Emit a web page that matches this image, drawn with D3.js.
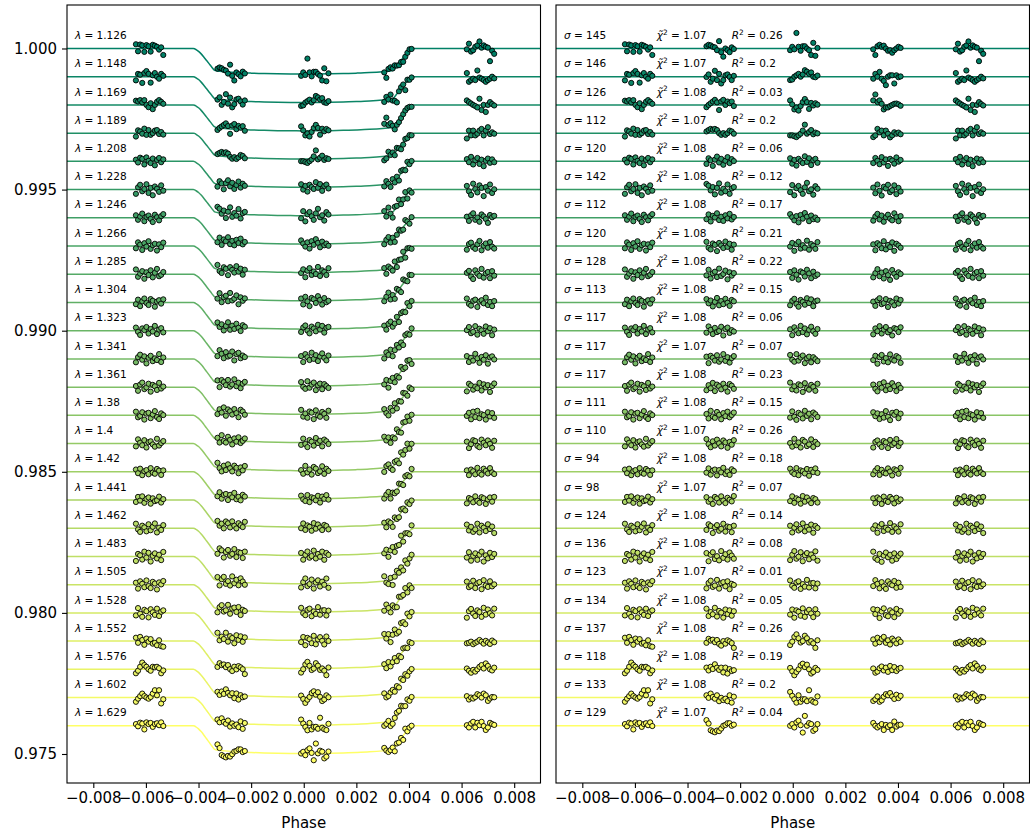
<!DOCTYPE html>
<html><head><meta charset="utf-8">
<script src="https://cdn.jsdelivr.net/npm/d3@7"></script>
<style>body{margin:0;background:#fff}svg{display:block}text{font-family:"DejaVu Sans",sans-serif;fill:#000}</style>
</head><body><svg id="chart" width="1030" height="832"></svg>
<script>
const wavelengths=[1.126,1.148,1.169,1.189,1.208,1.228,1.246,1.266,1.285,1.304,1.323,1.341,1.361,1.38,1.4,1.42,1.441,1.462,1.483,1.505,1.528,1.552,1.576,1.602,1.629];
const sigmas=[145,146,126,112,120,142,112,120,128,113,117,117,117,111,110,94,98,124,136,123,134,137,118,133,129];
const chi2=[1.07,1.07,1.08,1.07,1.08,1.08,1.08,1.08,1.08,1.08,1.08,1.07,1.08,1.08,1.07,1.08,1.07,1.08,1.08,1.07,1.08,1.08,1.08,1.08,1.07];
const rsq=[0.26,0.2,0.03,0.2,0.06,0.12,0.17,0.21,0.22,0.15,0.06,0.07,0.23,0.15,0.26,0.18,0.07,0.14,0.08,0.01,0.05,0.26,0.19,0.2,0.04];
// transit depth per channel (ppm)
const depths=[908,915,920,915,920,925,930,935,940,945,950,960,965,965,960,955,960,965,970,970,975,975,980,980,983];
// orbital phase of each exposure (5 HST orbits)
const phases=[-0.00638,-0.00630,-0.00622,-0.00614,-0.00606,-0.00598,-0.00590,-0.00582,-0.00574,-0.00566,-0.00558,-0.00550,-0.00542,-0.00534,
-0.00328,-0.00320,-0.00312,-0.00304,-0.00296,-0.00288,-0.00280,-0.00272,-0.00264,-0.00256,-0.00248,-0.00240,-0.00232,-0.00224,
-0.00010,-0.00002,0.00006,0.00014,0.00022,0.00030,0.00038,0.00046,0.00054,0.00062,0.00070,0.00078,0.00086,0.00094,
0.00306,0.00314,0.00322,0.00330,0.00338,0.00346,0.00354,0.00362,0.00370,0.00378,0.00386,0.00394,0.00402,0.00410,
0.00620,0.00628,0.00636,0.00644,0.00652,0.00660,0.00668,0.00676,0.00684,0.00692,0.00700,0.00708,0.00716,0.00724];
// normalised transit model at each exposure (fraction of depth)
const modelAtPhase=[0,0,0,0,0,0,0,0,0,0,0,0,0,0,
0.876,0.884,0.893,0.900,0.906,0.912,0.918,0.924,0.930,0.935,0.940,0.944,0.948,0.952,
1,1,1,1,0.999,0.999,0.998,0.997,0.996,0.995,0.994,0.993,0.992,0.990,
0.900,0.892,0.884,0.877,0.847,0.768,0.668,0.564,0.460,0.356,0.258,0.170,0.096,0.040,
0,0,0,0,0,0,0,0,0,0,0,0,0,0];
// normalised transit model curve
const modelPhase=[-0.009,-0.0042,-0.00415,-0.0041,-0.0040,-0.0039,-0.0038,-0.0037,-0.0036,-0.0035,-0.0034,-0.0033,-0.0030,-0.0025,-0.0020,-0.0015,-0.0010,-0.0005,0,0.0005,0.0010,0.0015,0.0020,0.0025,0.0030,0.0033,0.0034,0.0035,0.0036,0.0037,0.0038,0.0039,0.0040,0.0041,0.00415,0.0042,0.009];
const modelShape=[0,0,0.01,0.04,0.11,0.21,0.33,0.46,0.59,0.72,0.84,0.875,0.905,0.940,0.962,0.978,0.990,0.997,1,0.997,0.990,0.978,0.962,0.940,0.905,0.875,0.84,0.72,0.59,0.46,0.33,0.21,0.11,0.04,0.01,0,0];
// residuals per channel (ppm), 14 exposures per orbit
const res01=[150,-100,140,110,-120,120,80,-110,130,100,60,-40,40,-230, 80,130,110,60,40,-60,260,-130,-290,0,-60,-130,40,-20, -60,60,-30,550,60,-80,80,80,0,-60,-230,200,-260,20, -30,-230,80,130,60,100,0,-80,-60,-150,-60,0,60,20, -30,170,-110,-60,60,110,250,30,110,60,30,-450,-80,-190];
const res02=[-130,100,70,-220,130,200,100,-210,50,130,0,-70,100,30, -10,80,-180,-70,210,-120,100,-240,-120,50,80,-10,-120,30, -120,-100,0,50,100,0,80,230,180,100,150,0,-20,40, -70,100,0,170,-70,-150,-300,0,50,50,-240,50,-20,10, 130,-180,-120,-70,-120,220,-30,-70,-120,-180,-120,-70,0,-60];
const res03=[150,120,170,90,170,0,-80,60,-150,0,110,170,110,40, -80,0,60,120,180,90,-180,120,180,0,120,60,120,-40, 160,20,-160,-90,-200,-40,100,210,100,-140,70,-20,60,10, 160,370,100,160,40,-160,-90,-90,-40,0,40,50,20,-30, 160,100,50,0,-40,-90,220,-180,0,-250,0,100,30,-20];
const res04=[-120,100,60,-20,160,-60,110,-60,0,90,110,-30,40,-50, 60,110,150,120,150,110,0,-60,0,-60,0,90,60,-20, -80,-80,-110,-140,-80,-20,90,300,-20,40,110,-40,20,-10, -140,-80,150,30,90,-80,90,-20,-150,-80,30,-20,20,-40, -190,90,-80,90,-80,-20,90,150,-80,90,210,-30,30,-20];
const res05=[60,-40,130,90,-110,140,20,-60,100,-140,50,120,-30,70, -90,110,40,-160,60,170,-40,90,-120,20,150,-60,80,10, 110,-80,50,-150,90,10,-60,180,-20,110,-130,40,90,-50, -60,120,20,-100,150,-40,70,-160,90,30,-80,140,-10,50, 80,-30,160,-110,40,120,-90,60,-170,20,100,-50,70,-30];
const res06=[-150,80,170,-60,20,190,-120,60,-200,110,30,-80,150,-40, 200,140,-30,90,-170,60,220,-110,30,-60,180,-150,40,90, -90,160,-200,50,130,-20,-150,80,240,-60,10,-180,120,30, 70,-130,180,-40,-210,100,40,170,-90,-20,150,-160,60,-70, 130,-60,-190,210,20,-100,150,60,-230,90,-40,180,-120,10];
const res07=[90,-70,40,150,-120,30,80,-40,-150,110,20,-90,60,130, -50,120,-130,70,10,160,-80,40,-110,90,-20,140,-60,30, 130,20,-90,60,-160,100,-30,170,40,-120,80,-50,10,-70, -100,50,140,-60,80,-140,20,110,-30,-90,160,30,-120,60, 40,-110,90,160,-70,10,-140,120,50,-40,-180,100,20,70];
const res08=[-80,130,50,-140,100,-20,170,-100,30,80,-160,60,-40,120, 150,-60,-120,90,40,-180,110,20,-70,160,-30,80,-130,50, -20,110,-170,60,150,-90,30,-60,190,-130,70,10,-100,140, 60,-150,100,30,-80,170,-120,40,-40,130,-170,80,20,-60, -130,70,120,-40,-100,60,180,-150,10,90,-60,140,-20,-90];
const res09=[170,-90,20,110,-160,70,-30,140,-110,50,190,-70,-20,80, -40,160,-150,30,90,-100,200,-60,10,130,-180,70,-50,40, 80,-130,140,-20,-190,100,50,-80,160,30,-140,90,-60,-10, -110,40,180,-70,60,-150,110,-30,-200,150,20,-90,70,10, 50,120,-80,-170,140,20,-60,190,-120,30,80,-140,110,-50];
const res10=[-60,100,-130,40,140,-20,-90,120,60,-150,30,80,-40,110, 120,-30,70,-140,20,160,-100,50,-60,130,-10,-120,90,40, -100,60,130,-50,-150,90,20,-80,150,-20,110,-130,40,70, 30,-120,80,150,-60,-20,120,-160,60,10,-100,140,-40,90, 140,-50,-110,60,100,-160,30,80,-30,170,-90,20,-130,50];
const res11=[110,-40,-150,80,20,130,-100,60,-30,170,-120,40,90,-60, -70,150,30,-120,100,-50,-10,140,-170,60,110,-80,20,-30, 50,-160,120,10,-90,170,-50,80,-130,30,140,-20,-110,60, -130,80,-20,160,-100,40,130,-60,20,-170,90,60,-50,120, 20,130,-90,-40,160,-140,70,10,-110,150,-20,90,-160,40];
const res12=[-120,60,150,-30,90,-160,40,110,-80,20,-40,170,-110,50, 80,-150,110,40,-60,130,-100,-20,170,-70,60,-130,30,100, 140,-30,-100,170,-60,50,120,-150,20,80,-120,60,-10,-80, -40,110,-170,60,140,-90,30,-120,160,-20,-60,100,50,-140, 100,-110,40,-60,180,20,-140,70,-30,130,-170,50,90,-20];
const res13=[40,-130,90,160,-70,-10,120,-160,80,30,-100,150,-50,20, -110,70,-40,150,-140,90,30,-80,120,-20,-160,110,50,-60, 160,-80,30,-120,100,60,-170,140,-40,-90,80,10,-130,120, 90,-60,-150,110,-20,170,-110,50,-70,140,30,-140,80,-30, -150,120,60,-90,20,-40,150,-120,100,-10,70,-170,40,130];
const res14=[130,-70,-20,110,-150,60,90,-100,30,150,-60,-130,70,10, 50,-110,160,-40,-90,120,20,-140,80,-30,130,-70,10,100, -80,140,-50,-160,90,30,-110,160,-20,60,-140,100,40,-60, 110,-30,70,-130,40,-80,150,-50,-170,90,20,120,-100,60, -20,90,-140,130,-60,160,-100,40,10,-150,110,-40,80,-90];
const res15=[-100,150,30,-60,120,-140,50,80,-30,-110,170,-70,20,90, 160,-20,-130,80,-70,140,10,-100,110,40,-150,60,-40,120, 20,-110,170,-60,40,-140,130,70,-90,-30,150,-120,60,-20, -140,60,110,-30,-120,90,40,-160,130,-50,20,160,-90,30, 70,-160,-20,120,90,-80,-130,140,30,-60,110,-10,-150,100];
const res16=[80,-50,110,-120,20,60,-90,130,-30,-70,100,40,-110,50, -30,120,-100,40,80,-130,60,-20,140,-80,10,-110,90,30, 110,-20,-80,130,-120,50,20,-60,100,-140,70,-10,120,-40, -90,40,130,-110,70,-30,-60,120,10,-130,90,50,-70,140, 50,-120,80,20,-90,140,-40,-100,110,30,-60,130,-20,-80];
const res17=[-70,110,-20,130,-100,40,90,-130,60,-40,-10,120,-90,30, 100,-60,20,-140,110,50,-90,130,-20,-110,80,10,-50,140, -40,130,-100,60,10,-130,140,-60,90,-20,-110,70,30,-90, 60,-110,90,30,-140,120,-30,-70,110,40,-120,80,-50,20, -120,70,30,-80,130,-30,-100,100,60,-140,20,90,-60,110];
const res18=[160,-40,-130,90,30,-110,140,-70,50,170,-150,20,-60,110, -60,140,80,-170,30,110,-90,-20,160,-120,60,40,-140,90, 90,-150,20,140,-80,-20,170,-110,50,-50,130,-160,80,10, -20,100,-160,60,150,-100,20,-50,180,-130,70,-10,-120,140, 130,-80,50,-130,-40,160,-150,90,20,-100,140,-30,60,-170];
const res19=[-160,90,40,-110,170,-40,130,-180,20,110,-70,60,-130,160, 120,-170,60,150,-90,10,-140,190,-50,80,-110,140,30,-80, -130,60,190,-80,-10,150,-170,40,120,-100,70,-40,180,-150, 170,-60,-120,90,-190,30,140,-30,60,-150,110,-90,20,100, -40,150,-150,20,110,-120,60,170,-180,40,-70,130,-20,90];
const res20=[70,-140,120,30,-90,150,-50,-120,100,40,-170,80,10,130, -130,60,140,-80,-30,170,-140,50,90,-60,120,-160,30,-10, 150,-40,-110,80,120,-150,20,-70,170,-100,50,60,-130,40, -50,160,30,-130,90,-60,-150,120,20,-20,130,-110,70,-80, 110,-90,-40,140,-120,50,90,-160,160,-30,-80,120,-60,10];
const res21=[-90,170,-30,-140,110,60,-160,130,20,-70,150,-110,40,90, 150,-110,30,-50,180,-130,70,10,-170,120,-40,90,-100,60, -60,120,-170,90,40,-100,160,-140,30,110,-20,-150,130,-30, 130,-40,110,-180,50,160,-80,-120,90,20,-150,140,-30,70, -170,60,140,-20,-110,90,30,-140,180,-60,120,-10,-90,150];
const res22=[120,-60,150,40,-130,90,-20,70,-90,-60,-150,30,-180,-200, -60,80,20,50,-40,40,-100,-160,0,-90,30,-10,-70,-240, -140,-20,150,240,100,-50,0,190,100,-50,0,-80,-240,30, 60,-90,120,-40,80,150,-60,30,-120,90,20,-80,60,-30, -80,-60,-20,-110,-60,-20,40,-20,-90,10,-50,-100,20,-40];
const res23=[-140,-50,90,240,150,90,0,-50,90,70,90,40,-140,-40, 60,-40,90,10,180,60,-20,60,-110,60,-150,10,-60,-30, 50,-70,-210,-95,0,140,200,80,165,0,-150,-95,50,-20, 30,-120,-80,40,100,-40,60,-90,120,-30,80,-60,20,50, 30,-50,-120,-20,-80,0,90,150,30,210,120,0,-40,60];
const res24=[-150,-40,50,140,50,0,-40,20,140,260,80,260,-210,-60, 80,-10,140,20,-40,80,-130,-10,-90,-40,-130,80,-180,30, 200,60,-60,-180,80,-150,-60,-60,-130,260,-95,-150,-180,40, -120,-60,40,-150,-100,30,120,80,160,40,-50,100,-20,60, 50,-70,0,-35,20,120,80,0,140,80,-120,-35,20,10];
const res25=[60,-20,110,80,-130,120,60,100,-40,60,90,20,120,-10, 200,80,-160,-200,-230,-170,-190,-100,0,30,90,90,0,40, 0,60,-60,120,180,20,-240,350,0,95,60,-180,-120,60, 100,0,-60,0,60,-150,30,-40,20,-150,150,-30,30,40, 20,-60,80,140,-60,105,20,140,-10,-150,-60,105,60,30];
const residuals=[res01,res02,res03,res04,res05,res06,res07,res08,res09,res10,res11,res12,res13,res14,res15,res16,res17,res18,res19,res20,res21,res22,res23,res24,res25];
const xTicks=[-0.008,-0.006,-0.004,-0.002,0,0.002,0.004,0.006,0.008];
const yTicks=[0.975,0.980,0.985,0.990,0.995,1.000];
const offsetStep=0.001;

const svg=d3.select('#chart');
const yTop=5,yBot=783;
const y=d3.scaleLinear().domain([0.973972,1.001541]).range([yBot,yTop]);
const xL=d3.scaleLinear().domain([-0.009,0.009]).range([67,540.5]);
const xR=d3.scaleLinear().domain([-0.009,0.009]).range([556,1029.5]);
const n=wavelengths.length;
const color=i=>{const t=i/(n-1);return d3.rgb(255*t,255*(0.5+t/2),102).formatHex();};
const fmt=d3.format('.3f');

function panel(x,isLeft){
  const g=svg.append('g');
  const clipId='clip'+(isLeft?'L':'R');
  svg.append('clipPath').attr('id',clipId).append('rect')
    .attr('x',x.range()[0]).attr('y',yTop).attr('width',x.range()[1]-x.range()[0]).attr('height',yBot-yTop);
  const body=g.append('g').attr('clip-path',`url(#${clipId})`);
  for(let i=0;i<n;i++){
    const off=1-i*offsetStep, d=depths[i]*1e-6, c=color(i);
    const pts=modelPhase.map((p,k)=>[p,isLeft?off-d*modelShape[k]:off]);
    body.append('path').attr('d',d3.line().x(q=>x(q[0])).y(q=>y(q[1])).curve(d3.curveMonotoneX)(pts))
      .attr('fill','none').attr('stroke',c).attr('stroke-width',1.5);
    const data=phases.map((p,k)=>({p,f:off-(isLeft?d*modelAtPhase[k]:0)+residuals[i][k]*1e-6}));
    body.append('g').selectAll('circle').data(data).join('circle')
      .attr('cx',q=>x(q.p)).attr('cy',q=>y(q.f)).attr('r',2.6)
      .attr('fill',c).attr('stroke','#000').attr('stroke-width',0.9);
  }
  const lab=g.append('g').attr('font-size','10.5px');
  for(let i=0;i<n;i++){
    const off=1-i*offsetStep, yy=y(off+0.00033);
    if(isLeft){
      const t=lab.append('text').attr('x',x(-0.0087)).attr('y',yy);
      t.append('tspan').attr('font-style','italic').text('λ');
      t.append('tspan').text(' = '+wavelengths[i]);
    }else{
      const t=lab.append('text').attr('x',x(-0.0087)).attr('y',yy);
      t.append('tspan').attr('font-style','italic').text('σ');
      t.append('tspan').text(' = '+sigmas[i]);
      const t2=lab.append('text').attr('x',x(-0.00517)).attr('y',yy);
      t2.append('tspan').attr('font-style','italic').text('χ\u0303');
      t2.append('tspan').attr('font-size','7.4px').attr('dy',-4.5).text('2');
      t2.append('tspan').attr('dy',4.5).text(' = '+chi2[i].toFixed(2));
      const t3=lab.append('text').attr('x',x(-0.00232)).attr('y',yy);
      t3.append('tspan').attr('font-style','italic').text('R');
      t3.append('tspan').attr('font-size','7.4px').attr('dy',-4.5).text('2');
      t3.append('tspan').attr('dy',4.5).text(' = '+rsq[i]);
    }
  }
  const ax=g.append('g').attr('transform',`translate(0,${yBot})`)
    .call(d3.axisBottom(x).tickValues(xTicks).tickFormat(fmt).tickSize(5).tickPadding(4));
  ax.select('.domain').remove();
  ax.selectAll('text').attr('font-size','15px').attr('font-family','DejaVu Sans').attr('fill','#000');
  ax.selectAll('line').attr('stroke','#000').attr('stroke-width',1.1);
  if(isLeft){
    const ay=g.append('g').attr('transform',`translate(${x.range()[0]},0)`)
      .call(d3.axisLeft(y).tickValues(yTicks).tickFormat(fmt).tickSize(5).tickPadding(5));
    ay.select('.domain').remove();
    ay.selectAll('text').attr('font-size','15px').attr('font-family','DejaVu Sans').attr('fill','#000');
    ay.selectAll('line').attr('stroke','#000').attr('stroke-width',1.1);
  }
  g.append('text').attr('x',(x.range()[0]+x.range()[1])/2).attr('y',828).attr('text-anchor','middle')
    .attr('font-size','15px').text('Phase');
  g.append('rect').attr('x',x.range()[0]).attr('y',yTop).attr('width',x.range()[1]-x.range()[0]).attr('height',yBot-yTop)
    .attr('fill','none').attr('stroke','#000').attr('stroke-width',1.1);
}
panel(xL,true);
panel(xR,false);
</script></body></html>
